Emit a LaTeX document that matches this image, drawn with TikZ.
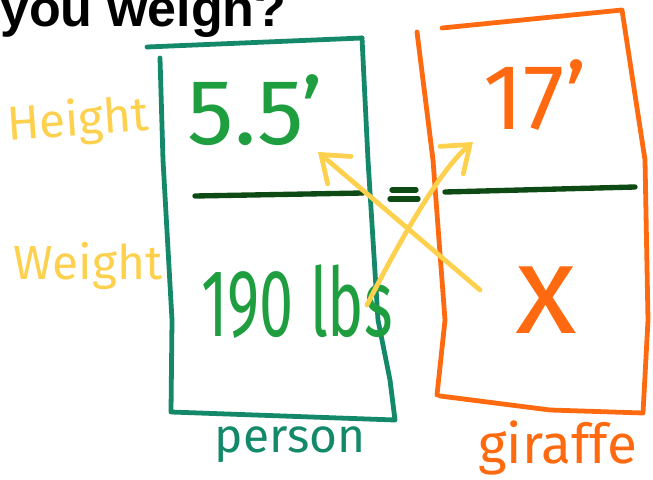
\documentclass[tikz,border=0pt]{standalone}
\usepackage{fontspec}
\setmainfont{Fira Sans}
\newfontfamily\titlefont{Liberation Sans}
\usetikzlibrary{arrows.meta,positioning}
\definecolor{PenTeal}{HTML}{13896A}
\definecolor{PenGreen}{HTML}{1F9E40}
\definecolor{PenOrange}{HTML}{FF6A10}
\definecolor{PenYellow}{HTML}{FDD14E}
\definecolor{PenDark}{HTML}{0E4A14}
\tikzset{
  pen/.style={line width=3.4pt,line cap=round,line join=round},
  tealpen/.style={pen,draw=PenTeal},
  orangepen/.style={pen,draw=PenOrange},
  barline/.style={line width=3.8pt,line cap=round,draw=PenDark},
  swaparrow/.style={pen,draw=PenYellow,-{Straight Barb[length=6mm,width=9mm,line cap=round]}},
  handtext/.style={inner sep=0pt,font=\fontsize{34}{40}\selectfont},
  bigtext/.style={inner sep=0pt,font=\fontsize{66}{70}\selectfont}
}

\begin{document}
\begin{tikzpicture}[x=0.025cm,y=-0.025cm]
\useasboundingbox (0,0) rectangle (653,480);
\clip (0,0) rectangle (653,480);
\node[anchor=base west,inner sep=0pt,font=\titlefont\bfseries\fontsize{37}{40}\selectfont] (title) at (0,26) {you weigh?};
% person box
\draw[tealpen] (147,47) -- (362,38);
\draw[tealpen] (160,58) -- (163,160) -- (172,320) -- (171,412) -- (395,420) -- (390,380) -- (378,320) -- (368,160) -- (362,38);
% giraffe box
\draw[orangepen] (442,28) -- (622,10) -- (645,160) -- (648,320) -- (643,413) -- (550,410) -- (440,396);
\draw[orangepen] (417,32) -- (433,160) -- (445,320) -- (437,395);
% fraction bars
\draw[barline] (195,196) -- (363,193);
\draw[barline] (445,192) -- (635,187);
\draw[barline] (392,190) -- (416,190);
\draw[barline] (390,199) -- (418,199);
% labels
\node[handtext,text=PenYellow,rotate=4] (height) at (78,122) {Height};
\node[handtext,text=PenYellow] (weight) at (88,266) {Weight};
\node[bigtext,text=PenGreen] (personh) at (255,110) {5.5'};
\node[bigtext,text=PenOrange] (girh) at (535,95) {17'};
\node[inner sep=0pt,font=\fontsize{68}{72}\selectfont,text=PenGreen] (personw) at (297,302) {\scalebox{0.64}[1]{190 lbs}};
\node[inner sep=0pt,font=\fontsize{90}{90}\selectfont,text=PenOrange] (girw) at (546,300) {x};
\node[handtext,text=PenTeal] (personlabel) at (290,445) {person};
\node[handtext,text=PenOrange,font=\fontsize{39}{44}\selectfont] (giraffelabel) at (558,448) {giraffe};
% swap arrows
\coordinate (xtail) at (480,290);
\coordinate (fivehead) at (318,152);
\coordinate (lbstail) at (367,305);
\coordinate (seventeenhead) at (473,142);
\draw[swaparrow] (xtail) -- (fivehead);
\draw[swaparrow] (lbstail) .. controls (400,240) and (440,170) .. (seventeenhead);
\end{tikzpicture}
\end{document}
